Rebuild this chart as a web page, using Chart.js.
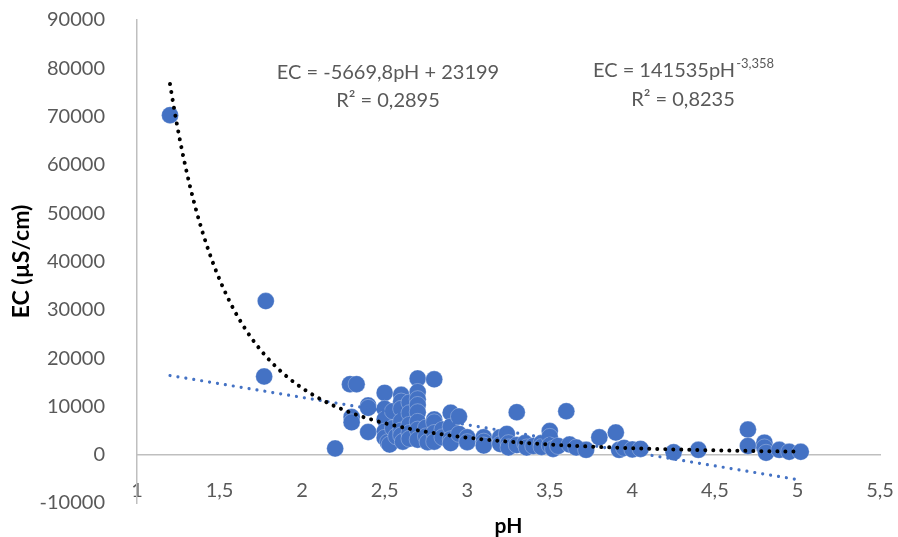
<!DOCTYPE html>
<html>
<head>
<meta charset="utf-8">
<script src="https://cdn.jsdelivr.net/npm/chart.js@4.4.1/dist/chart.umd.min.js"></script>
<style>
html,body{margin:0;padding:0;background:#fff;}
#wrap{width:898px;height:537px;position:relative;}
</style>
</head>
<body>
<div id="wrap"><canvas id="c" width="898" height="537"></canvas></div>
<script>
// ---- data ----
const pH = [1.2,1.77,1.78,2.2,2.29,2.33,2.3,2.3,2.4,2.4,2.4,
  2.5,2.5,2.5,2.5,2.5,2.52,2.53,2.55,2.55,2.57,
  2.6,2.6,2.6,2.6,2.6,2.6,2.61,2.65,2.65,2.65,2.65,2.65,
  2.7,2.7,2.7,2.7,2.7,2.7,2.7,2.7,2.75,2.75,2.76,
  2.8,2.8,2.8,2.8,2.8,2.85,2.85,2.9,2.9,2.9,2.9,2.95,2.95,
  3.0,3.0,3.1,3.1,3.1,3.2,3.2,3.24,3.25,3.25,3.3,3.3,
  3.35,3.36,3.4,3.45,3.45,3.5,3.5,3.5,3.52,3.55,3.6,3.62,
  3.66,3.72,3.8,3.9,3.92,3.95,4.0,4.05,4.25,4.4,
  4.7,4.7,4.8,4.8,4.81,4.89,4.95,5.02];
const EC = [70300,16200,31800,1300,14600,14600,7800,6700,10200,9700,4700,
  12800,9500,7300,4800,3500,2600,2100,9000,5500,3800,
  12400,11000,9500,6900,5000,4000,2700,10800,8600,6200,4500,3300,
  15800,13000,11500,10300,8800,6800,5200,3100,5600,3800,2600,
  15600,7300,6700,4500,2700,5200,3600,8700,5800,3200,2400,7900,4300,
  3600,2600,3600,2700,1900,3600,2200,4300,2400,1500,8800,2000,
  2400,1500,1800,2400,1600,4900,3700,1900,1200,1800,9000,2100,
  1500,1000,3600,4600,1000,1400,1100,1200,500,1000,
  5200,1800,2500,1500,400,1000,600,600];
const xTickLabels = ['1','1,5','2','2,5','3','3,5','4','4,5','5','5,5'];
const yTickLabels = ['-10000','0','10000','20000','30000','40000','50000','60000','70000','80000','90000'];
// trendlines as given by the chart's own equations
const linSlope = -5669.8, linIntercept = 23199;
const powCoef = 141535, powExp = -3.358;
const trendX = [1.2, 5.0];
const linLabel = 'EC = -5669,8pH + 23199', linR2 = 'R² = 0,2895';
const powLabel = 'EC = 141535pH', powSup = '-3,358', powR2 = 'R² = 0,8235';
const xTitle = 'pH', yTitle = 'EC (µS/cm)';

const points = pH.map((v,i)=>({x:v,y:EC[i]}));
const linPts = trendX.map(v=>({x:v,y:linSlope*v+linIntercept}));
const powPts = [];
for (let i=0;i<=190;i++){ const v = trendX[0] + (trendX[1]-trendX[0])*i/190; powPts.push({x:v,y:powCoef*Math.pow(v,powExp)}); }

const FONT = 'Lato, "Noto Sans", sans-serif';
const TXT = '#595959';

const annot = {
  id:'annot',
  afterDraw(chart){
    const ctx = chart.ctx;
    ctx.save();
    ctx.fillStyle = TXT;
    ctx.textBaseline = 'middle';
    ctx.textAlign = 'center';
    ctx.font = '20px ' + FONT;
    ctx.fillText(linLabel, 388, 73);
    ctx.fillText(linR2, 388, 101);
    ctx.fillText(powR2, 683, 100);
    const w1 = ctx.measureText(powLabel).width;
    ctx.font = '13px ' + FONT;
    const w2 = ctx.measureText(powSup).width;
    const start = 683 - (w1 + w2)/2;
    ctx.textAlign = 'left';
    ctx.font = '20px ' + FONT;
    ctx.fillText(powLabel, start, 71);
    ctx.font = '13px ' + FONT;
    ctx.fillText(powSup, start + w1 + 1, 64);
    ctx.textAlign = 'center';
    ctx.fillStyle = '#000';
    ctx.font = 'bold 21px ' + FONT;
    const ca = chart.chartArea;
    ctx.fillText(xTitle, (ca.left + ca.right)/2, 526);
    ctx.restore();
  }
};

new Chart(document.getElementById('c'), {
  type:'scatter',
  data:{datasets:[
    {data:powPts, showLine:true, pointRadius:0, borderColor:'#000', borderWidth:4, borderDash:[0.01,8], borderCapStyle:'round', fill:false, order:0},
    {data:linPts, showLine:true, pointRadius:0, borderColor:'#4472C4', borderWidth:3.2, borderDash:[0.01,8], borderCapStyle:'round', fill:false, order:1},
    {data:points, pointRadius:8.5, pointBackgroundColor:'#4472C4', pointBorderColor:'rgba(255,255,255,0.35)', pointBorderWidth:0.8, order:2}
  ]},
  plugins:[annot],
  options:{
    responsive:false, animation:false,
    layout:{padding:{top:20,right:18,bottom:34,left:0}},
    plugins:{legend:{display:false}, tooltip:{enabled:false}},
    scales:{
      x:{type:'linear', min:1, max:5.5, position:{y:0},
        grid:{display:false},
        border:{display:true,color:'#bfbfbf',width:1.5},
        ticks:{stepSize:0.5, padding:16, color:TXT, font:{family:FONT,size:20},
          callback:(v,i)=>xTickLabels[i]},
        afterFit(s){ s.paddingLeft = 0; s.paddingRight = 0; s.paddingTop = 0; s.paddingBottom = 0; }
      },
      y:{type:'linear', min:-10000, max:90000,
        grid:{display:false},
        border:{display:true,color:'#bfbfbf',width:1.5},
        ticks:{stepSize:10000, padding:24, color:TXT, font:{family:FONT,size:20},
          callback:(v,i)=>yTickLabels[i]},
        title:{display:true, text:yTitle, color:'#000', font:{family:FONT,size:23,weight:'bold'}, padding:{top:8,bottom:0}},
        afterFit(s){ s.width = 137; s.paddingTop = 0; s.paddingBottom = 0; s.paddingLeft = 0; s.paddingRight = 0; }
      }
    }
  }
});
</script>
</body>
</html>
